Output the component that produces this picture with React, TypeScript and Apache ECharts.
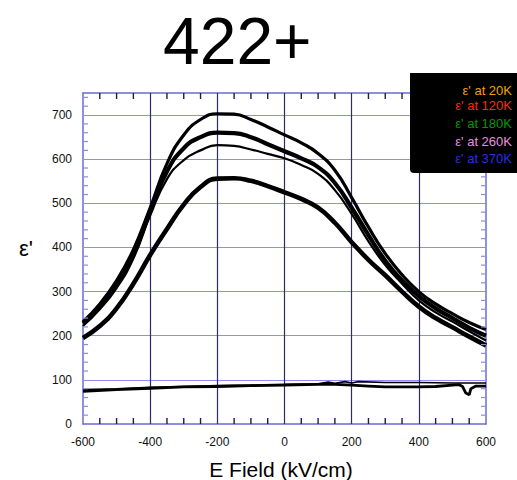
import React, { useEffect, useRef } from "react";
import * as echarts from "echarts";

// E field sample positions (kV/cm) for the four big curves
const X_FIELD = [-600, -550, -500, -450, -400, -350, -300, -250, -200, -150, -100, -50, 0, 50, 100, 150, 200, 250, 300, 350, 400, 450, 500, 550, 600];
// ε' values
const CURVE_A = [232, 272, 325, 395, 490, 590, 655, 690, 703, 702, 690, 673, 655, 637, 613, 575, 513, 446, 386, 338, 300, 272, 250, 230, 214];
const CURVE_B = [228, 266, 316, 385, 482, 572, 625, 650, 660, 659, 650, 634, 618, 602, 582, 546, 490, 428, 370, 325, 290, 262, 240, 218, 200];
const CURVE_C = [222, 260, 308, 375, 472, 555, 598, 620, 632, 630, 622, 612, 602, 587, 567, 530, 476, 414, 360, 318, 280, 253, 232, 210, 189];
const CURVE_D = [195, 222, 262, 318, 383, 442, 497, 537, 556, 557, 551, 539, 525, 510, 490, 456, 412, 372, 337, 300, 266, 240, 219, 198, 178];

// flat (20K) curve: two branches
const X_FLAT_UP = [-600, -500, -400, -300, -200, -100, 0, 100, 130, 150, 180, 200, 220, 300, 400, 500, 600];
const FLAT_UP = [78, 80, 83, 85, 87, 88, 90, 91, 95, 92, 96, 93, 96, 94, 94, 93, 93];
const X_FLAT_DOWN = [-600, -500, -400, -300, -200, -100, 0, 100, 150, 200, 250, 300, 350, 400, 450, 500, 520, 530, 540, 550, 555, 570, 600];
const FLAT_DOWN = [74, 78, 81, 84, 85, 87, 88, 90, 90, 88, 86, 84, 84, 84, 85, 88, 89, 85, 70, 66, 80, 86, 86];

const X_RANGE = { min: -600, max: 600, interval: 200 };
const Y_RANGE = { min: 0, max: 750, interval: 100 };
// minor tick positions
const X_MINOR_TICKS = [-550, -500, -450, -350, -300, -250, -150, -100, -50, 50, 100, 150, 250, 300, 350, 450, 500, 550];
const Y_MINOR_TICKS = [20, 40, 60, 80, 120, 140, 160, 180, 220, 240, 260, 280, 320, 340, 360, 380, 420, 440, 460, 480, 520, 540, 560, 580, 620, 640, 660, 680, 720, 740];
const X_GRID = [-400, -200, 0, 200, 400];
const Y_GRID = [100, 200, 300, 400, 500, 600, 700];

const LEGEND_LABELS = ["ε' at 20K", "ε' at 120K", "ε' at 180K", "ε' at 260K", "ε' at 370K"];
const LEGEND_COLORS = ["#f2a200", "#ff2a00", "#009a00", "#e890e0", "#2c2ce0"];

const TITLE = "422+";
const X_TITLE = "E Field (kV/cm)";
const Y_TITLE = "ε'";

const pairs = (xs: number[], ys: number[]) => xs.map((x, i) => [x, ys[i]]);

export default function App() {
  const ref = useRef<HTMLDivElement>(null);
  useEffect(() => {
    if (!ref.current) return;
    const chart = echarts.init(ref.current, undefined, { renderer: "svg" });
    const font = "Liberation Sans, Arial, sans-serif";
    const frame = "#6b6bd6";
    const lineSeries = (data: number[][], width: number, smooth = true) => ({
      type: "line",
      data,
      showSymbol: false,
      symbol: "none",
      smooth: smooth ? 0.5 : false,
      lineStyle: { color: "#000", width },
      z: 5,
    });
    // one small rect per tick, placed through the axes' scales
    const tickSeries = (side: "bottom" | "top" | "left" | "right") => {
      const vertical = side === "bottom" || side === "top";
      const vals = vertical ? X_MINOR_TICKS : Y_MINOR_TICKS;
      return {
        type: "custom",
        silent: true,
        clip: false,
        z: 6,
        data: vals.map((v) => (vertical ? [v, Y_RANGE.min] : [X_RANGE.min, v])),
        renderItem: (params: any, api: any) => {
          if (vertical) {
            const v = api.value(0);
            const p = api.coord([v, side === "bottom" ? Y_RANGE.min : Y_RANGE.max]);
            const y = side === "bottom" ? p[1] - 6 : p[1];
            return { type: "rect", shape: { x: p[0] - 0.7, y, width: 1.4, height: 6 }, style: { fill: "#1c1c50" } };
          }
          const v = api.value(1);
          const p = api.coord([side === "left" ? X_RANGE.min : X_RANGE.max, v]);
          const x = side === "left" ? p[0] : p[0] - 5;
          return { type: "rect", shape: { x, y: p[1] - 0.6, width: 5, height: 1.2 }, style: { fill: "#8a8ae8" } };
        },
      };
    };
    const legendY = [90, 105, 123, 141, 158];
    const axisLine = { show: true, onZero: false, lineStyle: { color: frame, width: 1.5 } };
    chart.setOption({
      animation: false,
      backgroundColor: "#fff",
      grid: { left: 83, right: 31, top: 93, bottom: 56, containLabel: false },
      xAxis: [
        {
          type: "value",
          position: "bottom",
          ...X_RANGE,
          axisLine,
          axisTick: { show: false },
          splitLine: { show: false },
          axisLabel: { fontSize: 12, color: "#111", margin: 12, fontFamily: font },
        },
        { type: "value", position: "top", ...X_RANGE, axisLine, axisTick: { show: false }, splitLine: { show: false }, axisLabel: { show: false } },
      ],
      yAxis: [
        {
          type: "value",
          position: "left",
          ...Y_RANGE,
          axisLine,
          axisTick: { show: false },
          splitLine: { show: false },
          axisLabel: { fontSize: 12, color: "#111", margin: 11, fontFamily: font, showMaxLabel: false },
        },
        { type: "value", position: "right", ...Y_RANGE, axisLine, axisTick: { show: false }, splitLine: { show: false }, axisLabel: { show: false } },
      ],
      series: [
        {
          type: "line",
          data: [[X_RANGE.min, Y_RANGE.min]],
          showSymbol: false,
          symbol: "none",
          lineStyle: { width: 0 },
          z: 1,
          silent: true,
          markLine: {
            silent: true,
            symbol: ["none", "none"],
            label: { show: false },
            animation: false,
            data: [
              ...Y_GRID.map((v) => ({ yAxis: v, lineStyle: { color: "#8e8ef2", width: 1.2, type: "solid" } })),
              ...X_GRID.map((v) => ({ xAxis: v, lineStyle: { color: "#2b2b66", width: 1.2, type: "solid" } })),
            ],
          },
        },
        tickSeries("bottom"),
        tickSeries("top"),
        tickSeries("left"),
        tickSeries("right"),
        lineSeries(pairs(X_FIELD, CURVE_A), 3.2),
        lineSeries(pairs(X_FIELD, CURVE_B), 4.2),
        lineSeries(pairs(X_FIELD, CURVE_C), 2.2),
        lineSeries(pairs(X_FIELD, CURVE_D), 4.6),
        lineSeries(pairs(X_FLAT_UP, FLAT_UP), 1.6, false),
        lineSeries(pairs(X_FLAT_DOWN, FLAT_DOWN), 2.8, false),
      ],
      graphic: [
        {
          type: "text",
          left: 238 - 75,
          top: 8,
          style: { text: TITLE, font: `66px ${font}`, fill: "#000" },
        },
        {
          type: "text",
          x: 281,
          y: 469,
          style: { text: X_TITLE, font: `21px ${font}`, fill: "#000", textAlign: "center", textVerticalAlign: "middle" },
        },
        {
          type: "text",
          x: 33,
          y: 248,
          style: { text: Y_TITLE, font: `22px ${font}`, fill: "#000", textAlign: "right", textVerticalAlign: "middle" },
        },
        {
          type: "rect",
          shape: { x: 410, y: 73, width: 110, height: 100, r: [0, 0, 0, 4] },
          style: { fill: "#000" },
          z: 100,
        },
        ...LEGEND_LABELS.map((t, i) => ({
          type: "text",
          x: 512,
          y: legendY[i],
          z: 101,
          style: {
            text: t,
            font: `13px ${font}`,
            fill: LEGEND_COLORS[i],
            textAlign: "right",
            textVerticalAlign: "middle",
          },
        })),
      ],
    });
    return () => chart.dispose();
  }, []);
  return <div ref={ref} style={{ position: "fixed", left: 0, top: 0, width: 517, height: 480 }} />;
}
